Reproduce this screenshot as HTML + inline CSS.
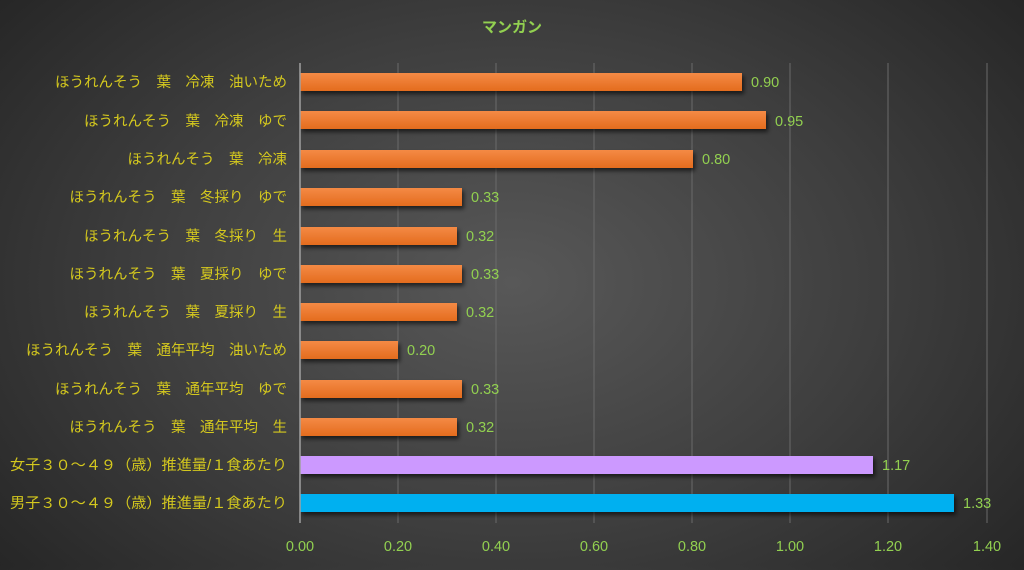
<!DOCTYPE html>
<html><head><meta charset="utf-8"><style>
html,body{margin:0;padding:0;}
body{width:1024px;height:565px;overflow:hidden;background:radial-gradient(ellipse 65% 80% at 50% 50%,#585858 0%,#3e3e3e 55%,#262626 100%);}
text{font-family:"Liberation Sans","Noto Sans CJK JP",sans-serif;}
</style></head><body>
<svg width="1024" height="565" xmlns="http://www.w3.org/2000/svg">
<defs>
<linearGradient id="og" x1="0" y1="0" x2="0" y2="1"><stop offset="0" stop-color="#f48a45"/><stop offset="1" stop-color="#e46c1e"/></linearGradient>
<filter id="sh" x="-5%" y="-50%" width="110%" height="200%"><feDropShadow dx="2" dy="3" stdDeviation="2" flood-color="#000" flood-opacity="0.6"/></filter>
</defs>
<text x="512" y="32" fill="#92d050" font-size="15" font-weight="bold" text-anchor="middle">マンガン</text>
<g stroke="#6a6a6a" stroke-width="1">
<line x1="398" y1="63" x2="398" y2="523"/><line x1="496" y1="63" x2="496" y2="523"/><line x1="594" y1="63" x2="594" y2="523"/><line x1="692" y1="63" x2="692" y2="523"/><line x1="790" y1="63" x2="790" y2="523"/><line x1="888" y1="63" x2="888" y2="523"/><line x1="987" y1="63" x2="987" y2="523"/>
</g>
<g fill="#92d050" font-size="14.5" text-anchor="middle">
<text x="300" y="551">0.00</text><text x="398" y="551">0.20</text><text x="496" y="551">0.40</text><text x="594" y="551">0.60</text><text x="692" y="551">0.80</text><text x="790" y="551">1.00</text><text x="888" y="551">1.20</text><text x="987" y="551">1.40</text>
</g>
<g filter="url(#sh)">
<rect x="300" y="73" width="442" height="18" fill="url(#og)"/>
<rect x="300" y="111" width="466" height="18" fill="url(#og)"/>
<rect x="300" y="150" width="393" height="18" fill="url(#og)"/>
<rect x="300" y="188" width="162" height="18" fill="url(#og)"/>
<rect x="300" y="227" width="157" height="18" fill="url(#og)"/>
<rect x="300" y="265" width="162" height="18" fill="url(#og)"/>
<rect x="300" y="303" width="157" height="18" fill="url(#og)"/>
<rect x="300" y="341" width="98" height="18" fill="url(#og)"/>
<rect x="300" y="380" width="162" height="18" fill="url(#og)"/>
<rect x="300" y="418" width="157" height="18" fill="url(#og)"/>
<rect x="300" y="456" width="573" height="18" fill="#cc99ff"/>
<rect x="300" y="494" width="654" height="18" fill="#00b0f0"/>
</g>
<line x1="300" y1="63" x2="300" y2="523" stroke="#a0a0a0" stroke-width="1.5"/>
<g fill="#92d050" font-size="14.5">
<text x="751" y="87">0.90</text><text x="775" y="126">0.95</text><text x="702" y="164">0.80</text><text x="471" y="202">0.33</text><text x="466" y="241">0.32</text><text x="471" y="279">0.33</text><text x="466" y="317">0.32</text><text x="407" y="355">0.20</text><text x="471" y="394">0.33</text><text x="466" y="432">0.32</text><text x="882" y="470">1.17</text><text x="963" y="508">1.33</text>
</g>
<g fill="#d4c81e" font-size="14.5" text-anchor="end">
<text x="287" y="87">ほうれんそう　葉　冷凍　油いため</text>
<text x="287" y="126">ほうれんそう　葉　冷凍　ゆで</text>
<text x="287" y="164">ほうれんそう　葉　冷凍</text>
<text x="287" y="202">ほうれんそう　葉　冬採り　ゆで</text>
<text x="287" y="241">ほうれんそう　葉　冬採り　生</text>
<text x="287" y="279">ほうれんそう　葉　夏採り　ゆで</text>
<text x="287" y="317">ほうれんそう　葉　夏採り　生</text>
<text x="287" y="355">ほうれんそう　葉　通年平均　油いため</text>
<text x="287" y="394">ほうれんそう　葉　通年平均　ゆで</text>
<text x="287" y="432">ほうれんそう　葉　通年平均　生</text>
<text x="287" y="470" textLength="277" lengthAdjust="spacingAndGlyphs">女子３０～４９（歳）推進量/１食あたり</text>
<text x="287" y="508" textLength="277" lengthAdjust="spacingAndGlyphs">男子３０～４９（歳）推進量/１食あたり</text>
</g>
</svg>
</body></html>
